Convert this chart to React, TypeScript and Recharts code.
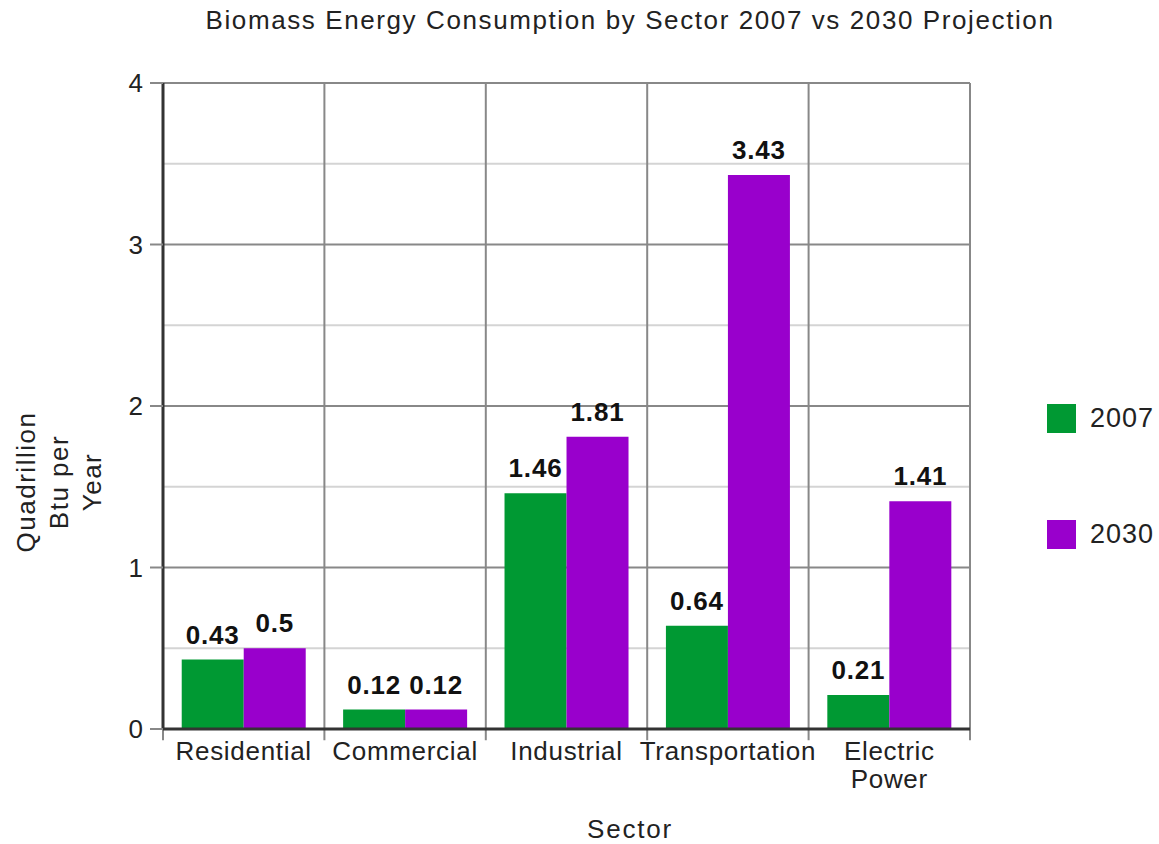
import React from 'react';
import { BarChart, Bar, XAxis, YAxis, CartesianGrid, Legend, LabelList, ReferenceLine } from 'recharts';

const sectors = ['Residential', 'Commercial', 'Industrial', 'Transportation', 'Electric Power'];
const values2007 = [0.43, 0.12, 1.46, 0.64, 0.21];
const values2030 = [0.5, 0.12, 1.81, 3.43, 1.41];
const majorTicks = [0, 1, 2, 3, 4];
const minorTicks = [0.5, 1.5, 2.5, 3.5];

const GREEN = '#009933';
const PURPLE = '#9900cc';
const FONT = '"Liberation Sans", Arial, Helvetica, sans-serif';

const data = sectors.map((s, i) => ({ sector: s, y2007: values2007[i], y2030: values2030[i] }));

// category names with a space wrap onto two lines
const SectorTick = (props: any) => {
  const { x, y, payload } = props;
  const words = payload.value.split(' ');
  return (
    <text x={x} y={y} textAnchor="middle" fontSize={26} letterSpacing={0.7} fontFamily={FONT} fill="#222">
      {words.map((w: string, i: number) => (
        <tspan key={w} x={x} dy={i === 0 ? 31 : 28}>{w}</tspan>
      ))}
    </text>
  );
};

const EmptyTick = () => <g />;

const YLabel = () => (
  <text
    transform="translate(60,482) rotate(-90)"
    textAnchor="middle"
    fontSize={26}
    letterSpacing={1.5}
    fontFamily={FONT}
    fill="#222"
  >
    <tspan x={0} dy={-25}>Quadrillion</tspan>
    <tspan x={0} dy={33}>Btu per</tspan>
    <tspan x={0} dy={33}>Year</tspan>
  </text>
);

const LegendBox = (props: any) => {
  const { payload } = props;
  return (
    <div style={{ fontFamily: FONT }}>
      {(payload || []).map((p: any) => (
        <div key={p.value} style={{ display: 'flex', alignItems: 'center', height: 29, marginBottom: 87 }}>
          <div style={{ width: 29, height: 29, background: p.color }} />
          <span style={{ marginLeft: 14, fontSize: 27, letterSpacing: 1, color: '#222' }}>{p.value}</span>
        </div>
      ))}
    </div>
  );
};

export default function App() {
  const last = sectors[sectors.length - 1];
  return (
    <div style={{ position: 'absolute', left: 0, top: 0, width: 1159, height: 844, background: '#fff' }}>
      <svg width={1159} height={844} style={{ position: 'absolute', left: 0, top: 0, pointerEvents: 'none', zIndex: 2 }}>
        <text x={630} y={29} textAnchor="middle" fontSize={26} letterSpacing={1.6} fontFamily={FONT} fill="#222">
          Biomass Energy Consumption by Sector 2007 vs 2030 Projection
        </text>
        <text x={630} y={838} textAnchor="middle" fontSize={26} letterSpacing={1.8} fontFamily={FONT} fill="#222">
          Sector
        </text>
        <YLabel />
      </svg>
      <BarChart
        width={1159}
        height={844}
        data={data}
        margin={{ top: 83, right: 77, left: 0, bottom: 0 }}
        barGap={0}
        barCategoryGap="11.6%"
      >
        <XAxis
          dataKey="sector"
          height={115}
          tick={<SectorTick />}
          tickLine={false}
          tickSize={0}
          tickMargin={0}
          axisLine={{ stroke: '#333', strokeWidth: 3 }}
        />
        <YAxis
          domain={[0, 4]}
          ticks={majorTicks}
          width={163}
          tickSize={13}
          tickMargin={7}
          tick={{ fontSize: 26, fontFamily: FONT, fill: '#222' }}
          tickLine={{ stroke: '#888', strokeWidth: 2 }}
          axisLine={{ stroke: '#333', strokeWidth: 3 }}
        />
        <YAxis
          yAxisId="minor"
          domain={[0, 4]}
          ticks={minorTicks}
          allowDataOverflow
          width={0}
          tickSize={6}
          tick={<EmptyTick />}
          tickLine={{ stroke: '#d4d4d4', strokeWidth: 2 }}
          axisLine={false}
        />
        <CartesianGrid vertical={false} horizontalValues={minorTicks} stroke="#d4d4d4" strokeWidth={2} />
        <CartesianGrid vertical={false} stroke="#888" strokeWidth={2} />
        {sectors.map((s) => (
          <ReferenceLine
            key={'b' + s}
            position="start"
            ifOverflow="visible"
            segment={[{ x: s, y: -0.07 }, { x: s, y: 4 }]}
            stroke="#888"
            strokeWidth={2}
          />
        ))}
        <ReferenceLine
          position="end"
          ifOverflow="visible"
          segment={[{ x: last, y: -0.07 }, { x: last, y: 4 }]}
          stroke="#888"
          strokeWidth={2}
        />
        <Legend
          layout="vertical"
          align="right"
          verticalAlign="top"
          content={<LegendBox />}
          wrapperStyle={{ left: 1047, top: 404, width: 112 }}
        />
        <Bar dataKey="y2007" name="2007" fill={GREEN} isAnimationActive={false}>
          <LabelList dataKey="y2007" position="top" offset={16} fontSize={26} letterSpacing={0.8} fontWeight="bold" fontFamily={FONT} fill="#111" />
        </Bar>
        <Bar dataKey="y2030" name="2030" fill={PURPLE} isAnimationActive={false}>
          <LabelList dataKey="y2030" position="top" offset={16} fontSize={26} letterSpacing={0.8} fontWeight="bold" fontFamily={FONT} fill="#111" />
        </Bar>
      </BarChart>
    </div>
  );
}
